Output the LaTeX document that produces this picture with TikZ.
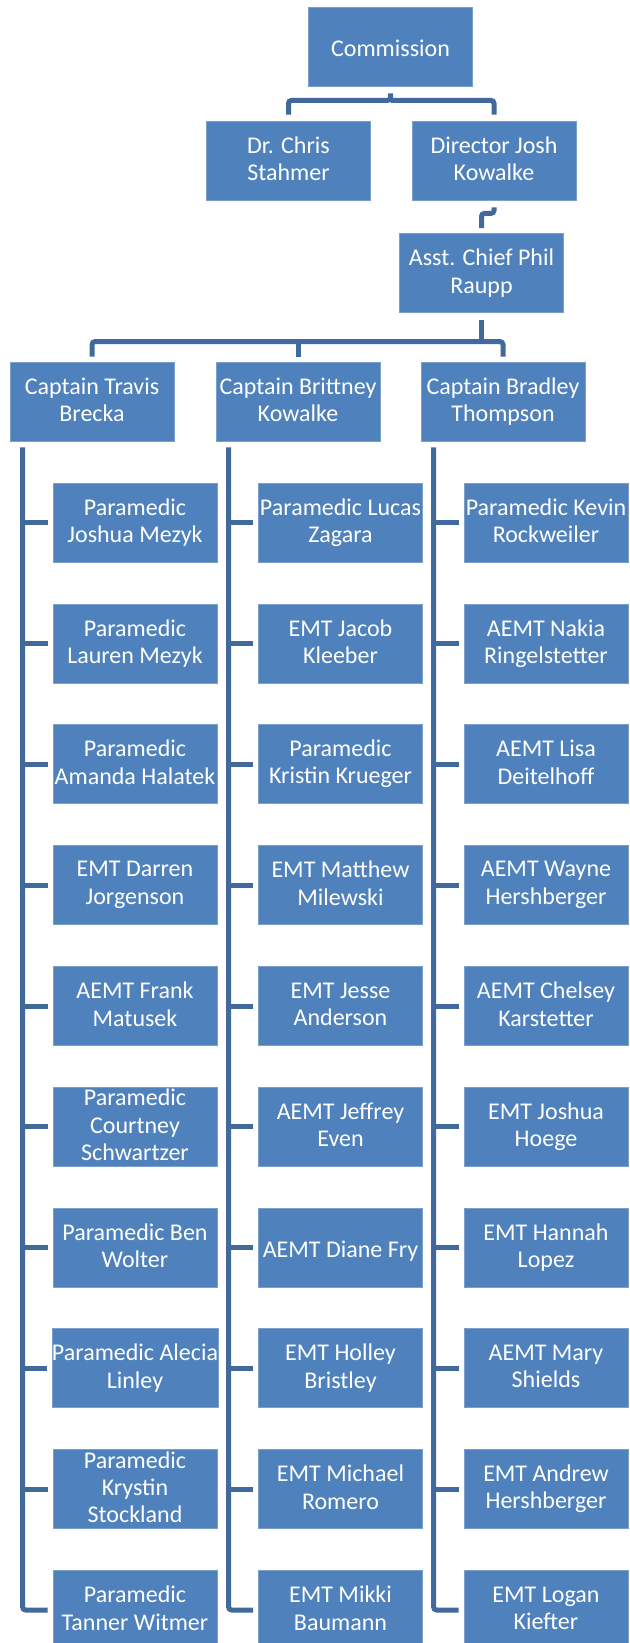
\documentclass[tikz,border=0pt]{standalone}
\usepackage{fontspec}
\setmainfont{Carlito}
\usepackage{tikz}

\definecolor{boxblue}{HTML}{4F81BD}
\definecolor{boxedge}{HTML}{7BA0CD}
\definecolor{linkblue}{HTML}{41699C}
\newcommand{\linestrut}{\rule[-1.8pt]{0pt}{13.4pt}}

\begin{document}
\begin{tikzpicture}[x=0.5pt,y=-0.5pt]
	\tikzset{member/.style={rectangle,fill=boxblue,draw=boxedge,line width=0.4pt,text=white,align=center,
			minimum width=82pt,minimum height=39.5pt,inner sep=0pt,font=\fontsize{12}{13.7}\selectfont,
			execute at begin node=\linestrut,execute at end node=\linestrut},
		link/.style={draw=linkblue,line width=2.5pt,rounded corners=1.5pt}}
	\useasboundingbox (0,0) rectangle (629,1643);
	% top of the chart
	\node[member] (comm) at (390.5,46.5) {Commission};
	\node[member] (chris) at (288.5,160.5) {Dr. Chris\\Stahmer};
	\node[member] (josh) at (494,160.5) {Director Josh\\Kowalke};
	\node[member] (phil) at (481.5,273) {Asst. Chief Phil\\Raupp};
	\node[member] (cap1) at (92,401.5) {Captain Travis\\Brecka};
	\node[member] (cap2) at (298,401.5) {Captain Brittney\\Kowalke};
	\node[member] (cap3) at (503,401.5) {Captain Bradley\\Thompson};
	% crew of captain 1
	\node[member] (c1-1) at (135,522.5) {Paramedic\\Joshua Mezyk};
	\node[member] (c1-2) at (135,643.5) {Paramedic\\Lauren Mezyk};
	\node[member] (c1-3) at (135,764) {Paramedic\\Amanda Halatek};
	\node[member] (c1-4) at (135,885) {EMT Darren\\Jorgenson};
	\node[member] (c1-5) at (135,1006) {AEMT Frank\\Matusek};
	\node[member] (c1-6) at (135,1126.5) {Paramedic\\Courtney\\Schwartzer};
	\node[member] (c1-7) at (135,1247.5) {Paramedic Ben\\Wolter};
	\node[member] (c1-8) at (135,1368) {Paramedic Alecia\\Linley};
	\node[member] (c1-9) at (135,1489) {Paramedic\\Krystin\\Stockland};
	\node[member] (c1-10) at (135,1610) {Paramedic\\Tanner Witmer};
	% crew of captain 2
	\node[member] (c2-1) at (340.5,522.5) {Paramedic Lucas\\Zagara};
	\node[member] (c2-2) at (340.5,643.5) {EMT Jacob\\Kleeber};
	\node[member] (c2-3) at (340.5,764) {Paramedic\\Kristin Krueger};
	\node[member] (c2-4) at (340.5,885) {EMT Matthew\\Milewski};
	\node[member] (c2-5) at (340.5,1006) {EMT Jesse\\Anderson};
	\node[member] (c2-6) at (340.5,1126.5) {AEMT Jeffrey\\Even};
	\node[member] (c2-7) at (340.5,1247.5) {AEMT Diane Fry};
	\node[member] (c2-8) at (340.5,1368) {EMT Holley\\Bristley};
	\node[member] (c2-9) at (340.5,1489) {EMT Michael\\Romero};
	\node[member] (c2-10) at (340.5,1610) {EMT Mikki\\Baumann};
	% crew of captain 3
	\node[member] (c3-1) at (546,522.5) {Paramedic Kevin\\Rockweiler};
	\node[member] (c3-2) at (546,643.5) {AEMT Nakia\\Ringelstetter};
	\node[member] (c3-3) at (546,764) {AEMT Lisa\\Deitelhoff};
	\node[member] (c3-4) at (546,885) {AEMT Wayne\\Hershberger};
	\node[member] (c3-5) at (546,1006) {AEMT Chelsey\\Karstetter};
	\node[member] (c3-6) at (546,1126.5) {EMT Joshua\\Hoege};
	\node[member] (c3-7) at (546,1247.5) {EMT Hannah\\Lopez};
	\node[member] (c3-8) at (546,1368) {AEMT Mary\\Shields};
	\node[member] (c3-9) at (546,1489) {EMT Andrew\\Hershberger};
	\node[member] (c3-10) at (546,1610) {EMT Logan\\Kiefter};
	% connectors
	\coordinate (hub) at ([yshift=-7pt]comm.south);
	\draw[link] ([yshift=-3.5pt]comm.south) -- (hub) -| ([yshift=3pt]chris.north);
	\draw[link] (hub) -| ([yshift=3pt]josh.north);
	\draw[link] ([yshift=-3.5pt]josh.south) -- ++(0,6) -| ([yshift=2.5pt]phil.north);
	\coordinate (cbus) at ([yshift=10pt]cap2.north);
	\draw[link] ([yshift=-3.5pt]phil.south) -- (phil.south |- cbus);
	\draw[link] ([yshift=2.5pt]cap1.north) |- (cbus) -| ([yshift=2.5pt]cap3.north);
	\draw[link] (cbus) -- ([yshift=2.5pt]cap2.north);
	\foreach \c in {1,2,3} {
		\coordinate (rail\c) at ([xshift=6.5pt,yshift=-3pt]cap\c.south west);
		\draw[link] (rail\c) |- ([xshift=-2.5pt]c\c-10.west);
		\foreach \r in {1,...,9}
			\draw[link] (rail\c |- c\c-\r.west) -- ([xshift=-2.5pt]c\c-\r.west);
	}
\end{tikzpicture}
\end{document}
